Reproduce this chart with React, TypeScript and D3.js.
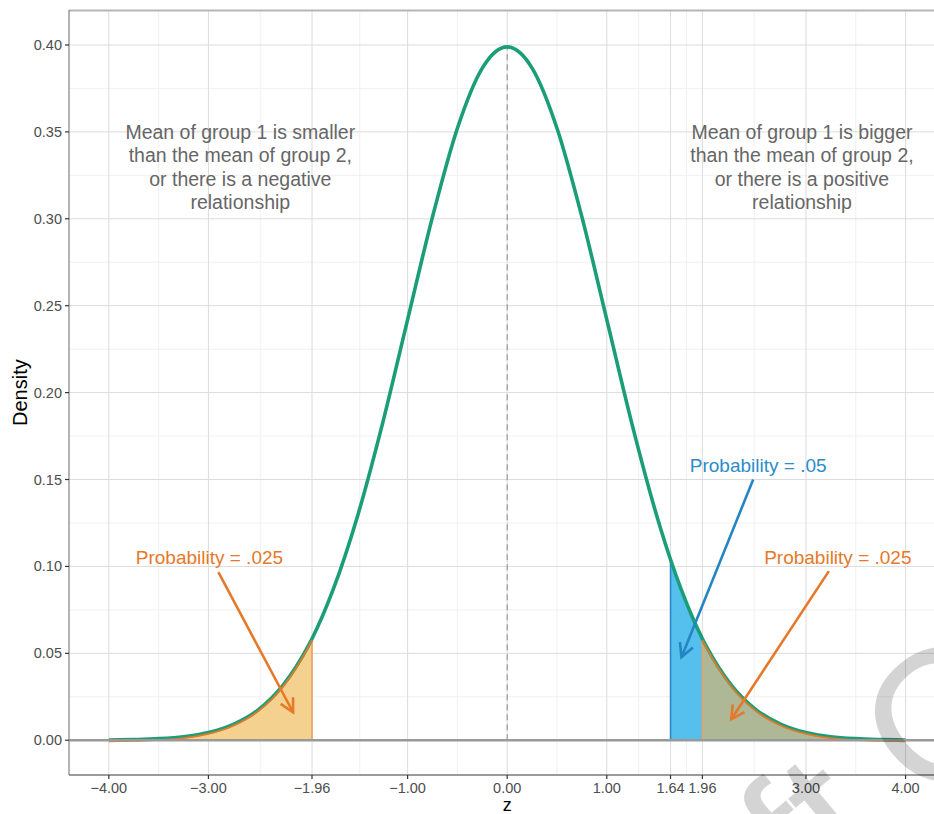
import React from "react";
import * as d3 from "d3";

// density curve (z, density)
const curveZ = [
  -4, -3.75, -3.5, -3.25, -3, -2.75, -2.5, -2.25, -2, -1.96, -1.75, -1.5, -1.25, -1, -0.75, -0.5, -0.25,
  0, 0.25, 0.5, 0.75, 1, 1.25, 1.5, 1.64, 1.75, 1.96, 2, 2.25, 2.5, 2.75, 3, 3.25, 3.5, 3.75, 4,
];
const curveD = [
  0.0001, 0.0004, 0.0009, 0.002, 0.0044, 0.0091, 0.0175, 0.0317, 0.054, 0.0584, 0.0863, 0.1295, 0.1826,
  0.242, 0.3011, 0.3521, 0.3867, 0.3989, 0.3867, 0.3521, 0.3011, 0.242, 0.1826, 0.1295, 0.104, 0.0863,
  0.0584, 0.054, 0.0317, 0.0175, 0.0091, 0.0044, 0.002, 0.0009, 0.0004, 0.0001,
];

const xTicks = [-4, -3, -1.96, -1, 0, 1, 1.64, 1.96, 3, 4];
const xTickLabels = ["\u22124.00", "\u22123.00", "\u22121.96", "\u22121.00", "0.00", "1.00", "1.64", "1.96", "3.00", "4.00"];
const yTicks = [0, 0.05, 0.1, 0.15, 0.2, 0.25, 0.3, 0.35, 0.4];
const yTickLabels = ["0.00", "0.05", "0.10", "0.15", "0.20", "0.25", "0.30", "0.35", "0.40"];

const leftCut = -1.96;
const oneTailCut = 1.64;
const rightCut = 1.96;

const leftNote = ["Mean of group 1 is smaller", "than the mean of group 2,", "or there is a negative", "relationship"];
const rightNote = ["Mean of group 1 is bigger", "than the mean of group 2,", "or there is a positive", "relationship"];

// labels: [text, x, y, colour]
const probLabels: [string, number, number, string][] = [
  ["Probability = .025", -2.99, 0.105, "#E5792A"],
  ["Probability = .05", 2.52, 0.158, "#2B8CC9"],
  ["Probability = .025", 3.32, 0.105, "#E5792A"],
];
// arrows: [x0, y0, x1, y1, colour]
const arrows: [number, number, number, number, string][] = [
  [-2.9, 0.0967, -2.15, 0.0161, "#E5792A"],
  [2.47, 0.15, 1.75, 0.0478, "#2485C3"],
  [3.23, 0.0973, 2.25, 0.0121, "#E5792A"],
];

const W = 934;
const H = 814;
const font = "'Liberation Sans', Arial, Helvetica, sans-serif";

export default function App() {
  const x = d3.scaleLinear().domain([-4.4, 4.4]).range([69, 945.4]);
  const y = d3.scaleLinear().domain([-0.02, 0.42]).range([775, 10.2]);

  const pts = curveZ.map((z, i) => ({ z, d: curveD[i] }));
  const line = d3
    .line<{ z: number; d: number }>()
    .x((p) => x(p.z))
    .y((p) => y(p.d))
    .curve(d3.curveMonotoneX);
  const area = d3
    .area<{ z: number; d: number }>()
    .x((p) => x(p.z))
    .y0(y(0))
    .y1((p) => y(p.d))
    .curve(d3.curveMonotoneX);

  const leftPts = pts.filter((p) => p.z <= leftCut);
  const bluePts = pts.filter((p) => p.z >= oneTailCut);
  const rightPts = pts.filter((p) => p.z >= rightCut);

  const minorX = xTicks.slice(1).map((t, i) => (t + xTicks[i]) / 2);
  const minorY = yTicks.slice(1).map((t, i) => (t + yTicks[i]) / 2);

  const arrowHead = (x0: number, y0: number, x1: number, y1: number) => {
    const a = Math.atan2(y1 - y0, x1 - x0);
    const len = 15;
    const spread = (28 * Math.PI) / 180;
    const p1 = [x1 - len * Math.cos(a - spread), y1 - len * Math.sin(a - spread)];
    const p2 = [x1 - len * Math.cos(a + spread), y1 - len * Math.sin(a + spread)];
    return `M${p1[0]},${p1[1]}L${x1},${y1}L${p2[0]},${p2[1]}`;
  };

  const cutTop = (z: number) => y(curveD[curveZ.indexOf(z)]);

  return (
    <svg width={W} height={H} style={{ position: "absolute", left: 0, top: 0, background: "#fff" }} fontFamily={font}>
      <defs>
        <clipPath id="panel">
          <rect x={69} y={10} width={900} height={765} />
        </clipPath>
      </defs>

      {/* grid */}
      <g>
        {minorX.map((t, i) => (
          <line key={"mx" + i} x1={x(t)} x2={x(t)} y1={10} y2={775} stroke="#f0f0f0" strokeWidth={1} />
        ))}
        {minorY.map((t, i) => (
          <line key={"my" + i} x1={69} x2={W} y1={y(t)} y2={y(t)} stroke="#f0f0f0" strokeWidth={1} />
        ))}
        {xTicks.map((t, i) => (
          <line key={"gx" + i} x1={x(t)} x2={x(t)} y1={10} y2={775} stroke="#dcdcdc" strokeWidth={1} />
        ))}
        {yTicks.map((t, i) => (
          <line key={"gy" + i} x1={69} x2={W} y1={y(t)} y2={y(t)} stroke="#dcdcdc" strokeWidth={1} />
        ))}
      </g>

      <g clipPath="url(#panel)">
        {/* shaded tails */}
        <path d={area(leftPts) || ""} fill="#F5D18F" />
        <path d={area(bluePts) || ""} fill="#55C0EE" />
        <path d={area(rightPts) || ""} fill="#AEB896" />

        {/* cut lines */}
        <line x1={x(oneTailCut)} x2={x(oneTailCut)} y1={y(0)} y2={cutTop(oneTailCut)} stroke="#2B89C6" strokeWidth={1.6} />
        <line x1={x(leftCut)} x2={x(leftCut)} y1={y(0)} y2={cutTop(leftCut)} stroke="#E8A060" strokeWidth={1.6} />
        <line x1={x(rightCut)} x2={x(rightCut)} y1={y(0)} y2={cutTop(rightCut)} stroke="#E8A060" strokeWidth={1.6} />

        {/* mean line */}
        <line x1={x(0)} x2={x(0)} y1={y(0)} y2={cutTop(0)} stroke="#999" strokeWidth={1.2} strokeDasharray="6,4" />

        {/* density curve */}
        <path d={line(pts) || ""} fill="none" stroke="#1B9E77" strokeWidth={3.6} />

        {/* tail outlines */}
        <path d={line(leftPts) || ""} fill="none" stroke="#E5792A" strokeWidth={1.8} transform="translate(0,1.3)" />
        <path d={line(rightPts) || ""} fill="none" stroke="#E5792A" strokeWidth={1.8} transform="translate(0,1.3)" />

        {/* zero line */}
        <line x1={69} x2={W} y1={y(0)} y2={y(0)} stroke="#999" strokeWidth={2.5} />
      </g>

      {/* notes */}
      {[leftNote, rightNote].map((note, k) => (
        <text key={"n" + k} x={x(k === 0 ? -2.68 : 2.96)} y={y(0.33) - 35} textAnchor="middle" fontSize={19.5} fill="#666">
          {note.map((s, i) => (
            <tspan key={i} x={x(k === 0 ? -2.68 : 2.96)} dy={i === 0 ? 0 : 23.5} dominantBaseline="central">
              {s}
            </tspan>
          ))}
        </text>
      ))}

      {probLabels.map(([t, lx, ly, c], i) => (
        <text key={"p" + i} x={x(lx)} y={y(ly)} textAnchor="middle" dominantBaseline="central" fontSize={19} fill={c}>
          {t}
        </text>
      ))}

      {arrows.map(([x0, y0, x1, y1, c], i) => (
        <g key={"a" + i} stroke={c} strokeWidth={2.6} fill="none">
          <line x1={x(x0)} y1={y(y0)} x2={x(x1)} y2={y(y1)} />
          <path d={arrowHead(x(x0), y(y0), x(x1), y(y1))} strokeLinejoin="miter" />
        </g>
      ))}

      {/* panel border */}
      <line x1={69} x2={W} y1={10.5} y2={10.5} stroke="#b5b5b5" strokeWidth={2} />
      <line x1={69} x2={69} y1={10} y2={775} stroke="#8c8c8c" strokeWidth={1.3} />
      <line x1={69} x2={W} y1={775} y2={775} stroke="#7a7a7a" strokeWidth={1.5} />

      {/* y axis */}
      {yTicks.map((t, i) => (
        <g key={"yt" + i}>
          <line x1={65} x2={69} y1={y(t)} y2={y(t)} stroke="#333" strokeWidth={1.2} />
          <text x={62} y={y(t)} textAnchor="end" dominantBaseline="central" fontSize={14.5} fill="#4d4d4d">
            {yTickLabels[i]}
          </text>
        </g>
      ))}
      {/* x axis */}
      {xTicks.map((t, i) => (
        <g key={"xt" + i}>
          <line x1={x(t)} x2={x(t)} y1={775} y2={779} stroke="#333" strokeWidth={1.2} />
          <text x={x(t)} y={788} textAnchor="middle" dominantBaseline="central" fontSize={14.5} fill="#4d4d4d">
            {xTickLabels[i]}
          </text>
        </g>
      ))}

      <text x={x(0)} y={805} textAnchor="middle" dominantBaseline="central" fontSize={18} fill="#000">
        z
      </text>
      <text transform={`translate(20,${y(0.2)}) rotate(-90)`} textAnchor="middle" dominantBaseline="central" fontSize={20} fill="#000">
        Density
      </text>

      {/* watermark */}
      <text transform="translate(581,1100) rotate(-40)" fontSize={185} fill="#000" fillOpacity={0.17}>
        Draft Only
      </text>
    </svg>
  );
}
